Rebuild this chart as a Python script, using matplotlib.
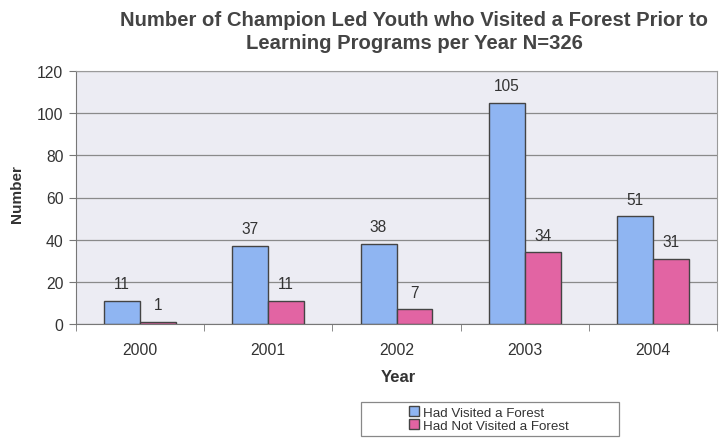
import matplotlib
matplotlib.use("Agg")
import matplotlib.pyplot as plt
import numpy as np
from matplotlib.patches import Patch, Rectangle

plt.rcParams['font.family'] = ['Liberation Sans', 'DejaVu Sans']

years = ["2000", "2001", "2002", "2003", "2004"]
visited = [11, 37, 38, 105, 51]
not_visited = [1, 11, 7, 34, 31]
series_names = ["Had Visited a Forest", "Had Not Visited a Forest"]
title = "Number of Champion Led Youth who Visited a Forest Prior to\nLearning Programs per Year N=326"

blue = "#8fb5f2"
pink = "#e264a3"
edge = "#444444"
txt = "#333333"

W, H = 721, 439
fig = plt.figure(figsize=(W/100, H/100), dpi=100)
ax = fig.add_axes([76/W, 1-325/H, 641/W, (325-72)/H])
ax.set_facecolor("#ececf3")

x = np.arange(len(years))
w = 0.28
b1 = ax.bar(x - w/2, visited, w, color=blue, edgecolor=edge, linewidth=1.0, zorder=3)
b2 = ax.bar(x + w/2, not_visited, w, color=pink, edgecolor=edge, linewidth=1.0, zorder=3)
for bars, vals in ((b1, visited), (b2, not_visited)):
    for r, v in zip(bars, vals):
        ax.annotate(str(v), (r.get_x() + r.get_width()/2, v), xytext=(0, 7),
                    textcoords="offset points", ha="center", va="bottom",
                    fontsize=11.2, color=txt)

ax.set_xlim(-0.5, len(years) - 0.5)
ax.set_ylim(0, 120)
ax.set_yticks(range(0, 121, 20))
ax.yaxis.grid(True, color="#8a8a8a", linewidth=0.9, zorder=0)
ax.set_xticks(x)
ax.set_xticklabels(years, fontsize=11.3, color=txt)
ax.tick_params(axis="x", length=0, pad=13)
ax.set_xticks(np.arange(-0.5, len(years)), minor=True)
ax.tick_params(axis="x", which="minor", length=5, color="#777777")
ax.tick_params(axis="y", labelsize=11.3, labelcolor=txt, length=5, color="#777777", pad=4)
for s in ("top", "right"):
    ax.spines[s].set_color("#9a9a9a")
    ax.spines[s].set_linewidth(0.8)
ax.spines["left"].set_color("#777777")
ax.spines["bottom"].set_color("#777777")

ax.set_xlabel("Year", fontsize=12, fontweight="bold", color=txt, va="center")
ax.xaxis.set_label_coords((398-76)/641, (325-378)/253)
ax.set_ylabel("Number", fontsize=11, fontweight="bold", color=txt, va="center")
ax.yaxis.set_label_coords((17-76)/641, (325-194)/253)

fig.text(414/W, 1-32/H, title, ha="center", va="center", fontsize=14.6,
         fontweight="bold", color="#444444", linespacing=1.3)

# legend box
fig.patches.append(Rectangle((361/W, 1-437/H), (619-361)/W, (437-403)/H,
                             transform=fig.transFigure, facecolor="white",
                             edgecolor="#888888", linewidth=0.9, zorder=1))
handles = [Patch(facecolor=blue, edgecolor=edge), Patch(facecolor=pink, edgecolor=edge)]
leg = fig.legend(handles, series_names, loc="center", bbox_to_anchor=(489/W, 1-420/H),
                 fontsize=9.6, frameon=False,
                 handlelength=0.7, handleheight=0.7, handletextpad=0.3, borderpad=0.2,
                 labelspacing=0.05, borderaxespad=0)
for t in leg.get_texts():
    t.set_color(txt)

fig.savefig("out.png", dpi=100)
